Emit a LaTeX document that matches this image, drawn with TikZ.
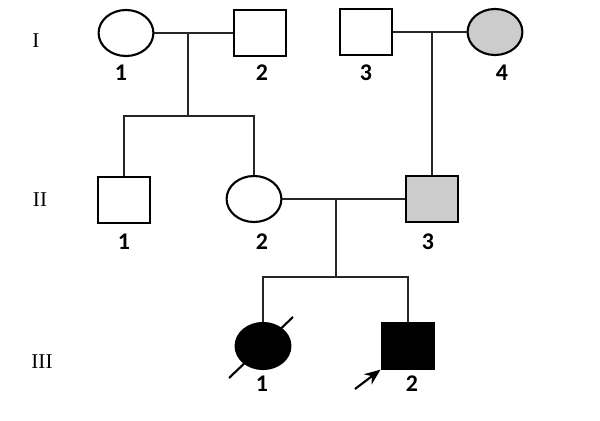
\documentclass[tikz,border=0pt]{standalone}
\usepackage{fontspec}
\setmainfont{Liberation Serif}
\newfontfamily\numfont{Carlito}
\usetikzlibrary{arrows.meta,shapes.geometric}
\tikzset{
  line/.style={line width=1.5pt, black!85},
  male/.style={draw, line width=1.5pt, rectangle, minimum width=1.32cm, minimum height=1.13cm, inner sep=0pt},
  female/.style={draw, line width=1.5pt, ellipse, minimum width=1.37cm, minimum height=1.15cm, inner sep=0pt},
  carrier/.style={fill=black!20},
  affected/.style={fill=black},
  num/.style={font=\numfont\bfseries\fontsize{17}{20}\selectfont, inner sep=0pt},
  gen/.style={font=\fontsize{15}{18}\selectfont, inner sep=0pt},
}

\begin{document}
\begin{tikzpicture}[x=0.025cm, y=-0.025cm]
  \useasboundingbox (0,0) rectangle (600,421);

  % Generation labels
  \node[gen] (g1) at (36,41) {I};
  \node[gen] (g2) at (40,200) {II};
  \node[gen] (g3) at (42,362) {III};

  % Generation I
  \node[female] (I1) at (126,33) {};
  \node[male] (I2) at (260,33) {};
  \node[male] (I3) at (366,32) {};
  \node[female, carrier] (I4) at (495,32) {};
  \node[num] (I1l) at (121,73) {1};
  \node[num] (I2l) at (262,73) {2};
  \node[num] (I3l) at (366,73) {3};
  \node[num] (I4l) at (502,73) {4};

  % Generation II
  \node[male] (II1) at (124,200) {};
  \node[female] (II2) at (254,199) {};
  \node[male, carrier] (II3) at (432,199) {};
  \node[num] (II1l) at (124,242) {1};
  \node[num] (II2l) at (262,242) {2};
  \node[num] (II3l) at (428,242) {3};

  % Generation III
  \node[female, affected] (III1) at (263,346) {};
  \node[male, affected] (III2) at (408,346) {};
  \node[num] (III1l) at (262,384) {1};
  \node[num] (III2l) at (412,384) {2};

  % Couples
  \draw[line] (I1) -- (I2);
  \draw[line] (I3) -- (I4);
  \draw[line] (II2) -- (II3);

  % Descent lines
  \coordinate (d1) at (188,33);
  \coordinate (d2) at (432,32);
  \coordinate (d3) at (336,199);
  \draw[line] (d1) -- (188,116);
  \draw[line] (II1.north) -- (124,116) -- (254,116) -- (II2.north);
  \draw[line] (d2) -- (II3.north);
  \draw[line] (d3) -- (336,277);
  \draw[line] (III1.north) -- (263,277) -- (408,277) -- (III2.north);

  % Deceased and proband
  \draw[line width=1.5pt] (229,378) -- (293,317);
  \draw[line width=1.5pt, -{Stealth[length=0.4cm, width=0.32cm]}] (355,389) -- (III2.south west);
\end{tikzpicture}
\end{document}
